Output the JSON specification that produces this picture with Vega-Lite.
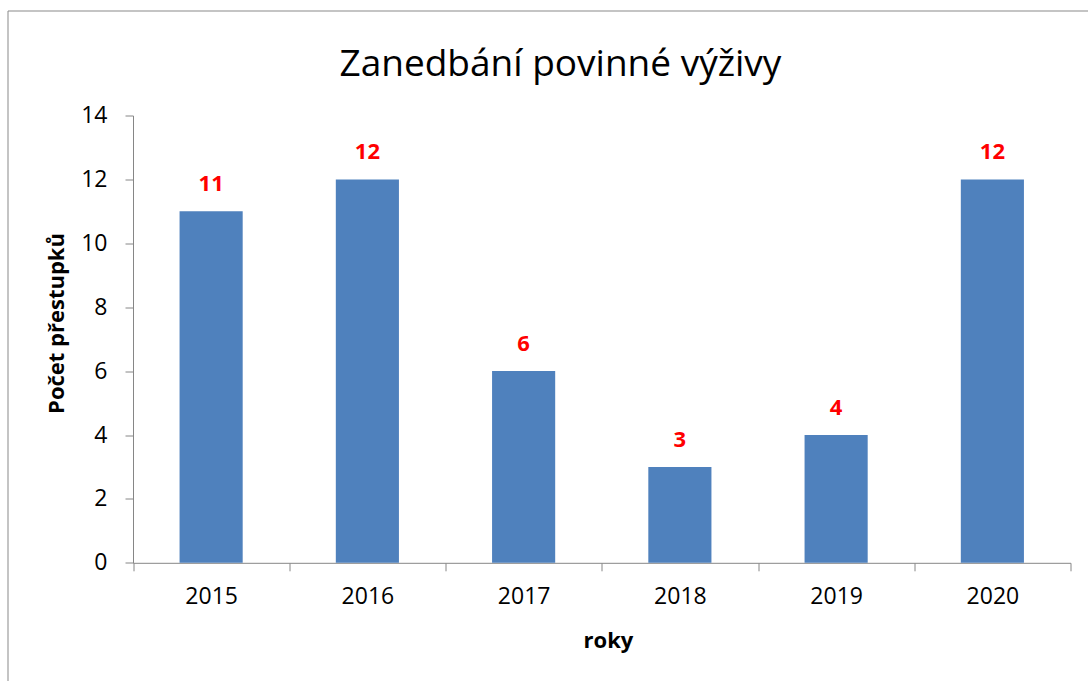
{
  "$schema": "https://vega.github.io/schema/vega-lite/v6.json",
  "autosize": {"type": "none"},
  "padding": {"left": 7.5, "top": 10.5, "right": 0, "bottom": 0},
  "width": 1085,
  "height": 675,
  "background": "white",
  "title": {
    "text": "Zanedbání povinné výživy",
    "font": "Open Sans",
    "fontSize": 37,
    "fontWeight": "normal",
    "color": "#000000",
    "anchor": "start",
    "frame": "group",
    "baseline": "alphabetic",
    "offset": 0,
    "dx": 332,
    "dy": 102
  },
  "data": {
    "values": [
      {"rok": "2015", "pocet": 11},
      {"rok": "2016", "pocet": 12},
      {"rok": "2017", "pocet": 6},
      {"rok": "2018", "pocet": 3},
      {"rok": "2019", "pocet": 4},
      {"rok": "2020", "pocet": 12}
    ]
  },
  "encoding": {
    "x": {
      "field": "rok",
      "type": "ordinal",
      "scale": {"range": [125.5, 1063], "paddingInner": 0, "paddingOuter": 0},
      "axis": {
        "title": "roky",
        "labelAngle": 0,
        "offset": -122.7,
        "tickBand": "extent",
        "tickSize": 8,
        "labelPadding": 15,
        "titleX": 600.5,
        "titleY": 85,
        "titleBaseline": "alphabetic",
        "titleAnchor": "middle",
        "titleAlign": "center"
      }
    },
    "y": {
      "field": "pocet",
      "type": "quantitative",
      "scale": {"domain": [0, 14], "range": [552.3, 105], "nice": false},
      "axis": {
        "title": "Počet přestupků",
        "values": [0, 2, 4, 6, 8, 10, 12, 14],
        "offset": -125.5,
        "tickSize": 8,
        "labelPadding": 18,
        "grid": false,
        "titleX": -70,
        "titleY": 312.5,
        "titleBaseline": "alphabetic",
        "titleAlign": "center",
        "titleAngle": 270
      }
    }
  },
  "layer": [
    {
      "mark": {"type": "bar", "color": "#4F81BD", "width": {"band": 0.404}},
      "encoding": {}
    },
    {
      "mark": {
        "type": "text",
        "color": "#FF0000",
        "font": "Open Sans",
        "fontSize": 22,
        "fontWeight": "bold",
        "baseline": "alphabetic",
        "align": "center",
        "dy": -20
      },
      "encoding": {"text": {"field": "pocet", "type": "quantitative"}}
    }
  ],
  "config": {
    "view": {"stroke": "#898989", "strokeWidth": 1, "fill": "white"},
    "axis": {
      "domainColor": "#868686",
      "tickColor": "#868686",
      "domainWidth": 1,
      "tickWidth": 1,
      "labelFont": "Open Sans",
      "labelFontSize": 23,
      "labelColor": "#000000",
      "titleFont": "Open Sans",
      "titleFontSize": 22,
      "titleFontWeight": "bold",
      "titleColor": "#000000"
    }
  }
}
